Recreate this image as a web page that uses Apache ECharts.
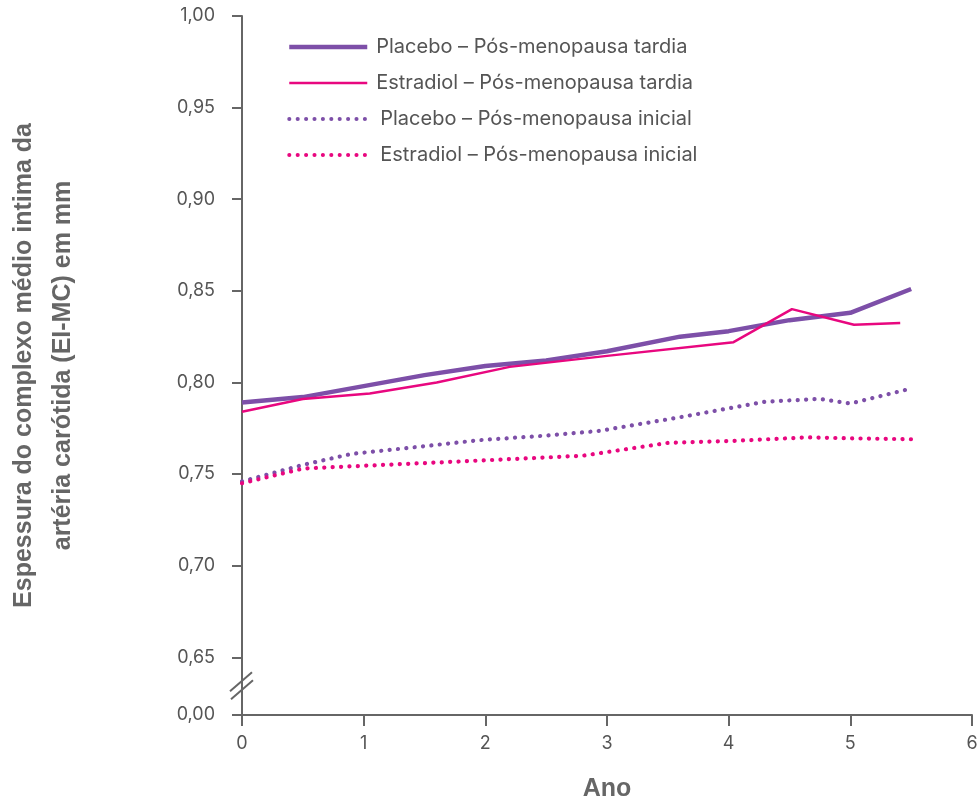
<!DOCTYPE html>
<html><head><meta charset="utf-8">
<script src="https://cdn.jsdelivr.net/npm/echarts@6/dist/echarts.min.js"></script>
<style>html,body{margin:0;padding:0;background:#fff}#c{width:978px;height:800px}</style>
</head><body><div id="c"></div>
<script>
// Data (x = Ano, y = EI-MC em mm)
const seriesNames = [
  'Placebo – Pós-menopausa tardia',
  'Estradiol – Pós-menopausa tardia',
  'Placebo – Pós-menopausa inicial',
  'Estradiol – Pós-menopausa inicial'
];
const placeboTardia = [[0,0.789],[0.5,0.792],[1,0.798],[1.5,0.804],[2,0.809],[2.5,0.812],[3,0.817],[3.6,0.825],[4,0.828],[4.5,0.834],[5,0.838],[5.5,0.851]];
const estradiolTardia = [[0,0.784],[0.5,0.791],[1.05,0.794],[1.6,0.800],[2.2,0.8085],[3,0.8145],[4.04,0.822],[4.52,0.840],[5.03,0.8315],[5.41,0.8325]];
const placeboInicial = [[0,0.746],[0.5,0.755],[0.9,0.761],[1.4,0.7645],[1.95,0.7685],[2.5,0.771],[2.93,0.7735],[3.6,0.781],[4.3,0.7895],[4.75,0.791],[5,0.7885],[5.5,0.7967]];
const estradiolInicial = [[0,0.745],[0.5,0.753],[1,0.7545],[2,0.7575],[2.8,0.760],[3.5,0.767],[4,0.768],[4.65,0.770],[5,0.7695],[5.5,0.769]];
const yBase = 0.6185; // position of the broken-axis "0,00"
const yTicks = [yBase, 0.65, 0.70, 0.75, 0.80, 0.85, 0.90, 0.95, 1.00];
const xTicks = [0,1,2,3,4,5,6];

const purple = '#7d4fa8', pink = '#e8077f', axisCol = '#666666', txt = '#555555';
const dots = [0.1, 8.3];
const chart = echarts.init(document.getElementById('c'));
const lbl = v => (v < 0.64 ? '0,00' : v.toFixed(2).replace('.', ','));
chart.setOption({
  animation: false,
  textStyle: { fontFamily: 'Inter' },
  grid: { left: 242, right: 6, top: 16, bottom: 85, outerBoundsMode: 'none', containLabel: false },
  legend: {
    orient: 'vertical', left: 282, top: 32, itemWidth: 78, itemHeight: 14, itemGap: 16,
    textStyle: { fontSize: 20, color: txt, fontFamily: 'Inter' },
    itemStyle: { color: 'rgba(0,0,0,0)', borderWidth: 0 },
    data: [
      { name: seriesNames[0], lineStyle: { width: 4.5, color: purple, type: 'solid' }, textStyle: { padding: [0,0,0,4] } },
      { name: seriesNames[1], lineStyle: { width: 2.5, color: pink, type: 'solid' }, textStyle: { padding: [0,0,0,4] } },
      { name: seriesNames[2], lineStyle: { width: 4, color: purple, type: dots, cap: 'round' }, textStyle: { padding: [0,0,0,8] } },
      { name: seriesNames[3], lineStyle: { width: 4, color: pink, type: dots, cap: 'round' }, textStyle: { padding: [0,0,0,8] } }
    ]
  },
  xAxis: {
    type: 'value', min: 0, max: 6, interval: 1,
    name: 'Ano', nameLocation: 'middle', nameGap: 62,
    nameTextStyle: { fontSize: 25, fontWeight: 'bold', color: axisCol, fontFamily: 'Liberation Sans' },
    axisLine: { lineStyle: { color: axisCol, width: 2 } },
    axisTick: { show: true, length: 11, lineStyle: { color: axisCol, width: 2 } },
    axisLabel: { color: txt, fontSize: 18, margin: 20, formatter: v => String(v) },
    splitLine: { show: false }
  },
  yAxis: {
    type: 'value', min: yBase, max: 1.0,
    name: 'Espessura do complexo médio intima da\nartéria carótida (EI-MC) em mm',
    nameLocation: 'middle', nameGap: 159, nameRotate: 90,
    nameTextStyle: { fontSize: 25, fontWeight: 'bold', color: axisCol, lineHeight: 39, fontFamily: 'Liberation Sans', align: 'center' },
    axisLine: { show: true, lineStyle: { color: axisCol, width: 2 } },
    axisTick: { show: true, length: 10, customValues: yTicks, lineStyle: { color: axisCol, width: 2 } },
    axisLabel: { color: txt, fontSize: 18, margin: 27, customValues: yTicks, formatter: lbl },
    splitLine: { show: false }
  },
  series: [
    { name: seriesNames[0], type: 'line', data: placeboTardia, symbol: 'none', color: purple, z: 4,
      lineStyle: { width: 4.5, color: purple } },
    { name: seriesNames[1], type: 'line', data: estradiolTardia, symbol: 'none', color: pink, z: 5,
      lineStyle: { width: 2.5, color: pink } },
    { name: seriesNames[2], type: 'line', data: placeboInicial, symbol: 'none', color: purple,
      lineStyle: { width: 4.2, color: purple, type: dots, cap: 'round' } },
    { name: seriesNames[3], type: 'line', data: estradiolInicial, symbol: 'none', color: pink,
      lineStyle: { width: 4.2, color: pink, type: dots, cap: 'round' } }
  ]
});
// axis break marks between 0,00 and 0,65
const mid = chart.convertToPixel({ yAxisIndex: 0 }, (yBase + 0.65) / 2);
const ax = chart.convertToPixel({ xAxisIndex: 0 }, 0);
chart.setOption({ graphic: [
  { type: 'line', shape: { x1: ax - 12, y1: mid + 5, x2: ax + 10, y2: mid - 14 }, style: { stroke: axisCol, lineWidth: 2 }, z: 10 },
  { type: 'line', shape: { x1: ax - 11, y1: mid + 13, x2: ax + 11, y2: mid - 6 }, style: { stroke: axisCol, lineWidth: 2 }, z: 10 }
]});
</script></body></html>
